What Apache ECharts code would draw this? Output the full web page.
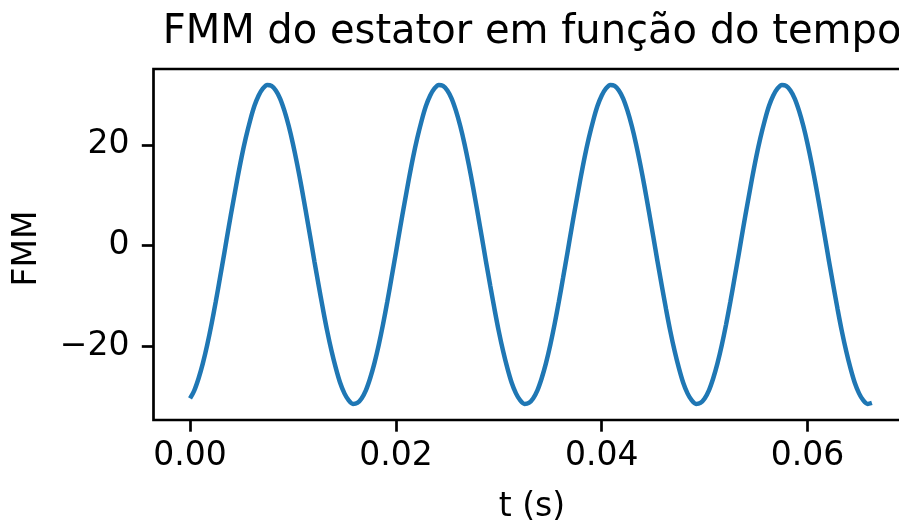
<!DOCTYPE html>
<html><head><meta charset="utf-8">
<script src="https://cdn.jsdelivr.net/npm/echarts@6/dist/echarts.min.js"></script>
<style>html,body{margin:0;padding:0;background:#fff}#c{width:899px;height:522px}</style>
</head><body><div id="c"></div>
<script>
const titleText = 'FMM do estator em função do tempo';
const xName = 't (s)';
const yName = 'FMM';
const xTicks = [0, 0.02, 0.04, 0.06];
const yTicks = [-20, 0, 20];
const sampleStep = 1 / 2400; // s between samples
const fmm = [
 -30.3, -28.7, -26.3, -23.3, -19.7, -15.6, -11.1, -6.3, -1.4, 3.6, 8.4, 13.1, 17.5, 21.4, 24.8, 27.7, 29.8, 31.2, 31.9, 31.7,
 30.8, 29.2, 26.8, 23.8, 20.2, 16.1, 11.6, 6.8, 1.9, -3.1, -7.9, -12.6, -17.0, -20.9, -24.3, -27.2, -29.3, -30.7, -31.4, -31.2,
 -30.3, -28.7, -26.3, -23.3, -19.7, -15.6, -11.1, -6.3, -1.4, 3.6, 8.4, 13.1, 17.5, 21.4, 24.8, 27.7, 29.8, 31.2, 31.9, 31.7,
 30.8, 29.2, 26.8, 23.8, 20.2, 16.1, 11.6, 6.8, 1.9, -3.1, -7.9, -12.6, -17.0, -20.9, -24.3, -27.2, -29.3, -30.7, -31.4, -31.2,
 -30.3, -28.7, -26.3, -23.3, -19.7, -15.6, -11.1, -6.3, -1.4, 3.6, 8.4, 13.1, 17.5, 21.4, 24.8, 27.7, 29.8, 31.2, 31.9, 31.7,
 30.8, 29.2, 26.8, 23.8, 20.2, 16.1, 11.6, 6.8, 1.9, -3.1, -7.9, -12.6, -17.0, -20.9, -24.3, -27.2, -29.3, -30.7, -31.4, -31.2,
 -30.3, -28.7, -26.3, -23.3, -19.7, -15.6, -11.1, -6.3, -1.4, 3.6, 8.4, 13.1, 17.5, 21.4, 24.8, 27.7, 29.8, 31.2, 31.9, 31.7,
 30.8, 29.2, 26.8, 23.8, 20.2, 16.1, 11.6, 6.8, 1.9, -3.1, -7.9, -12.6, -17.0, -20.9, -24.3, -27.2, -29.3, -30.7, -31.4, -31.2
];
const points = fmm.map((v, i) => [i * sampleStep, v]);
const F = 'DejaVu Sans';
const chart = echarts.init(document.getElementById('c'), null, {renderer: 'canvas'});
chart.setOption({
  animation: false,
  backgroundColor: '#fff',
  title: {
    text: titleText, left: 532, top: 13, textAlign: 'center', padding: 0,
    textStyle: {fontFamily: F, fontSize: 40, fontWeight: 'normal', color: '#000'}
  },
  grid: {left: 153.5, top: 69, width: 757, height: 351, containLabel: false, outerBoundsMode: 'none',
    show: true, borderColor: '#000', borderWidth: 2.7, backgroundColor: 'transparent'},
  xAxis: {
    type: 'value', min: -0.00355, max: 0.07,
    splitLine: {show: false}, axisLine: {show: false, onZero: false},
    axisTick: {show: true, customValues: xTicks, length: 11.7, lineStyle: {color: '#000', width: 2.7}},
    axisLabel: {customValues: xTicks, formatter: v => v.toFixed(2), margin: 20, fontFamily: F, fontSize: 33, color: '#000'},
    name: xName, nameLocation: 'middle', nameGap: 71,
    nameTextStyle: {fontFamily: F, fontSize: 33, color: '#000'}
  },
  yAxis: {
    type: 'value', min: -34.58, max: 35.06,
    splitLine: {show: false}, axisLine: {show: false, onZero: false},
    axisTick: {show: true, customValues: yTicks, length: 11.7, lineStyle: {color: '#000', width: 2.7}},
    axisLabel: {customValues: yTicks, formatter: v => v < 0 ? '\u2212' + Math.abs(v) : String(v), margin: 24, fontFamily: F, fontSize: 33, color: '#000'},
    name: yName, nameLocation: 'middle', nameGap: 110, nameRotate: 90,
    nameTextStyle: {fontFamily: F, fontSize: 33, color: '#000', padding: [0, 8, 0, 0]}
  },
  series: [{
    type: 'line', data: points, showSymbol: false, symbol: 'none', smooth: 0.3,
    lineStyle: {color: '#1f77b4', width: 4.5}
  }]
});
</script></body></html>
